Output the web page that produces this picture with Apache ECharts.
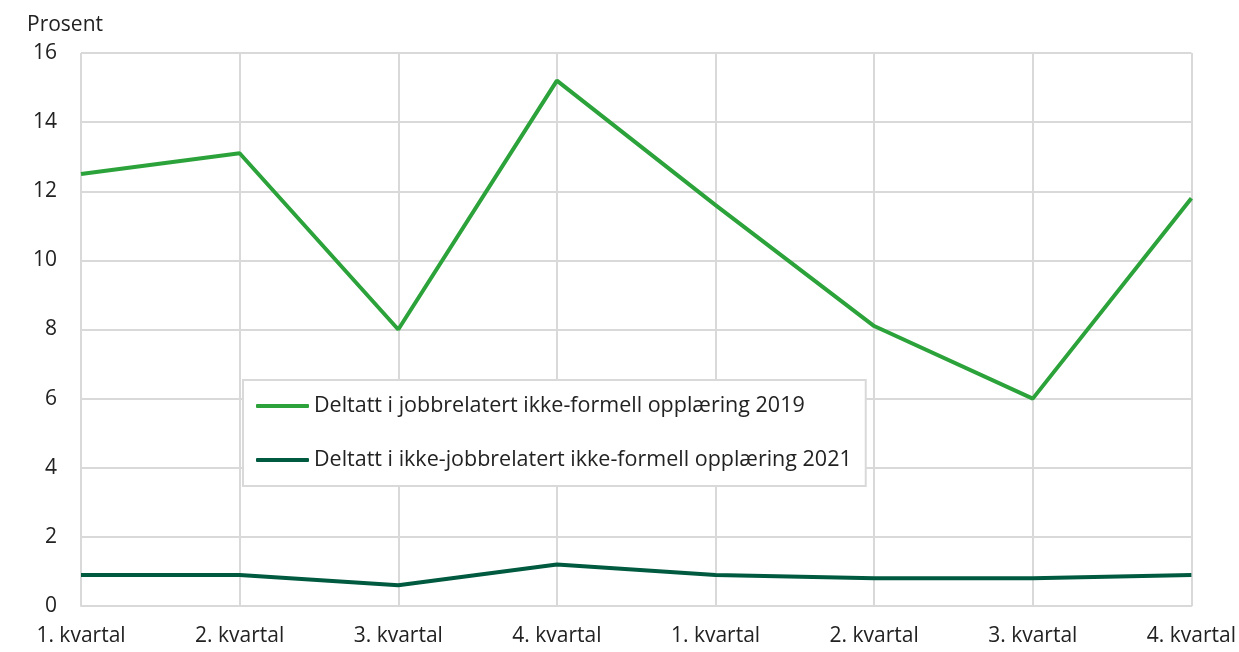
<!DOCTYPE html>
<html lang="no">
<head>
	<meta charset="utf-8">
	<title>Ikke-formell opplæring</title>
	<script src="https://cdn.jsdelivr.net/npm/echarts@6/dist/echarts.min.js"></script>
	<style>
		html, body { margin: 0; padding: 0; background: #fff; }
		#chart { width: 1239px; height: 652px; }
	</style>
</head>
<body>
<div id="chart"></div>
<script>
var categories = ['1. kvartal', '2. kvartal', '3. kvartal', '4. kvartal', '1. kvartal', '2. kvartal', '3. kvartal', '4. kvartal'];
var jobb2019 = [12.5, 13.1, 8.0, 15.2, 11.6, 8.1, 6.0, 11.8];
var ikkeJobb2021 = [0.9, 0.9, 0.6, 1.2, 0.9, 0.8, 0.8, 0.9];
var seriesNames = ['Deltatt i jobbrelatert ikke-formell opplæring 2019', 'Deltatt i ikke-jobbrelatert ikke-formell opplæring 2021'];
var yTicks = { min: 0, max: 16, interval: 2 };

var font = '"Open Sans", "Noto Sans", sans-serif';
var gridColor = '#d9d9d9';
var textColor = '#222';

var chart = echarts.init(document.getElementById('chart'));
chart.setOption({
	animation: false,
	title: {
		text: 'Prosent',
		left: 22,
		top: 10,
		textStyle: { fontFamily: font, fontSize: 21, fontWeight: 'normal', color: textColor }
	},
	grid: { left: 81, right: 47, top: 53, bottom: 46, containLabel: false },
	legend: {
		orient: 'vertical',
		left: 243,
		top: 380,
		padding: [13, 14, 13, 13],
		itemGap: 28,
		itemWidth: 53,
		itemHeight: 4,
		icon: 'roundRect',
		borderColor: gridColor,
		borderWidth: 2,
		backgroundColor: '#fff',
		textStyle: { fontFamily: font, fontSize: 21.5, color: textColor, lineHeight: 26 },
		data: seriesNames
	},
	xAxis: {
		type: 'category',
		boundaryGap: false,
		data: categories,
		axisLine: { lineStyle: { color: gridColor, width: 2 } },
		axisTick: { show: false },
		splitLine: { show: true, lineStyle: { color: gridColor, width: 2 } },
		axisLabel: { fontFamily: font, fontSize: 21, color: textColor, margin: 20, interval: 0 }
	},
	yAxis: {
		type: 'value',
		min: yTicks.min,
		max: yTicks.max,
		interval: yTicks.interval,
		axisLine: { show: false },
		axisTick: { show: false },
		splitLine: { lineStyle: { color: gridColor, width: 2 } },
		axisLabel: { fontFamily: font, fontSize: 21, color: textColor, margin: 24 }
	},
	series: [
		{
			name: seriesNames[0],
			type: 'line',
			data: jobb2019,
			symbol: 'none',
			lineStyle: { color: '#2ca33a', width: 4 },
			itemStyle: { color: '#2ca33a' }
		},
		{
			name: seriesNames[1],
			type: 'line',
			data: ikkeJobb2021,
			symbol: 'none',
			lineStyle: { color: '#005a3f', width: 4 },
			itemStyle: { color: '#005a3f' }
		}
	]
});
</script>
</body>
</html>
